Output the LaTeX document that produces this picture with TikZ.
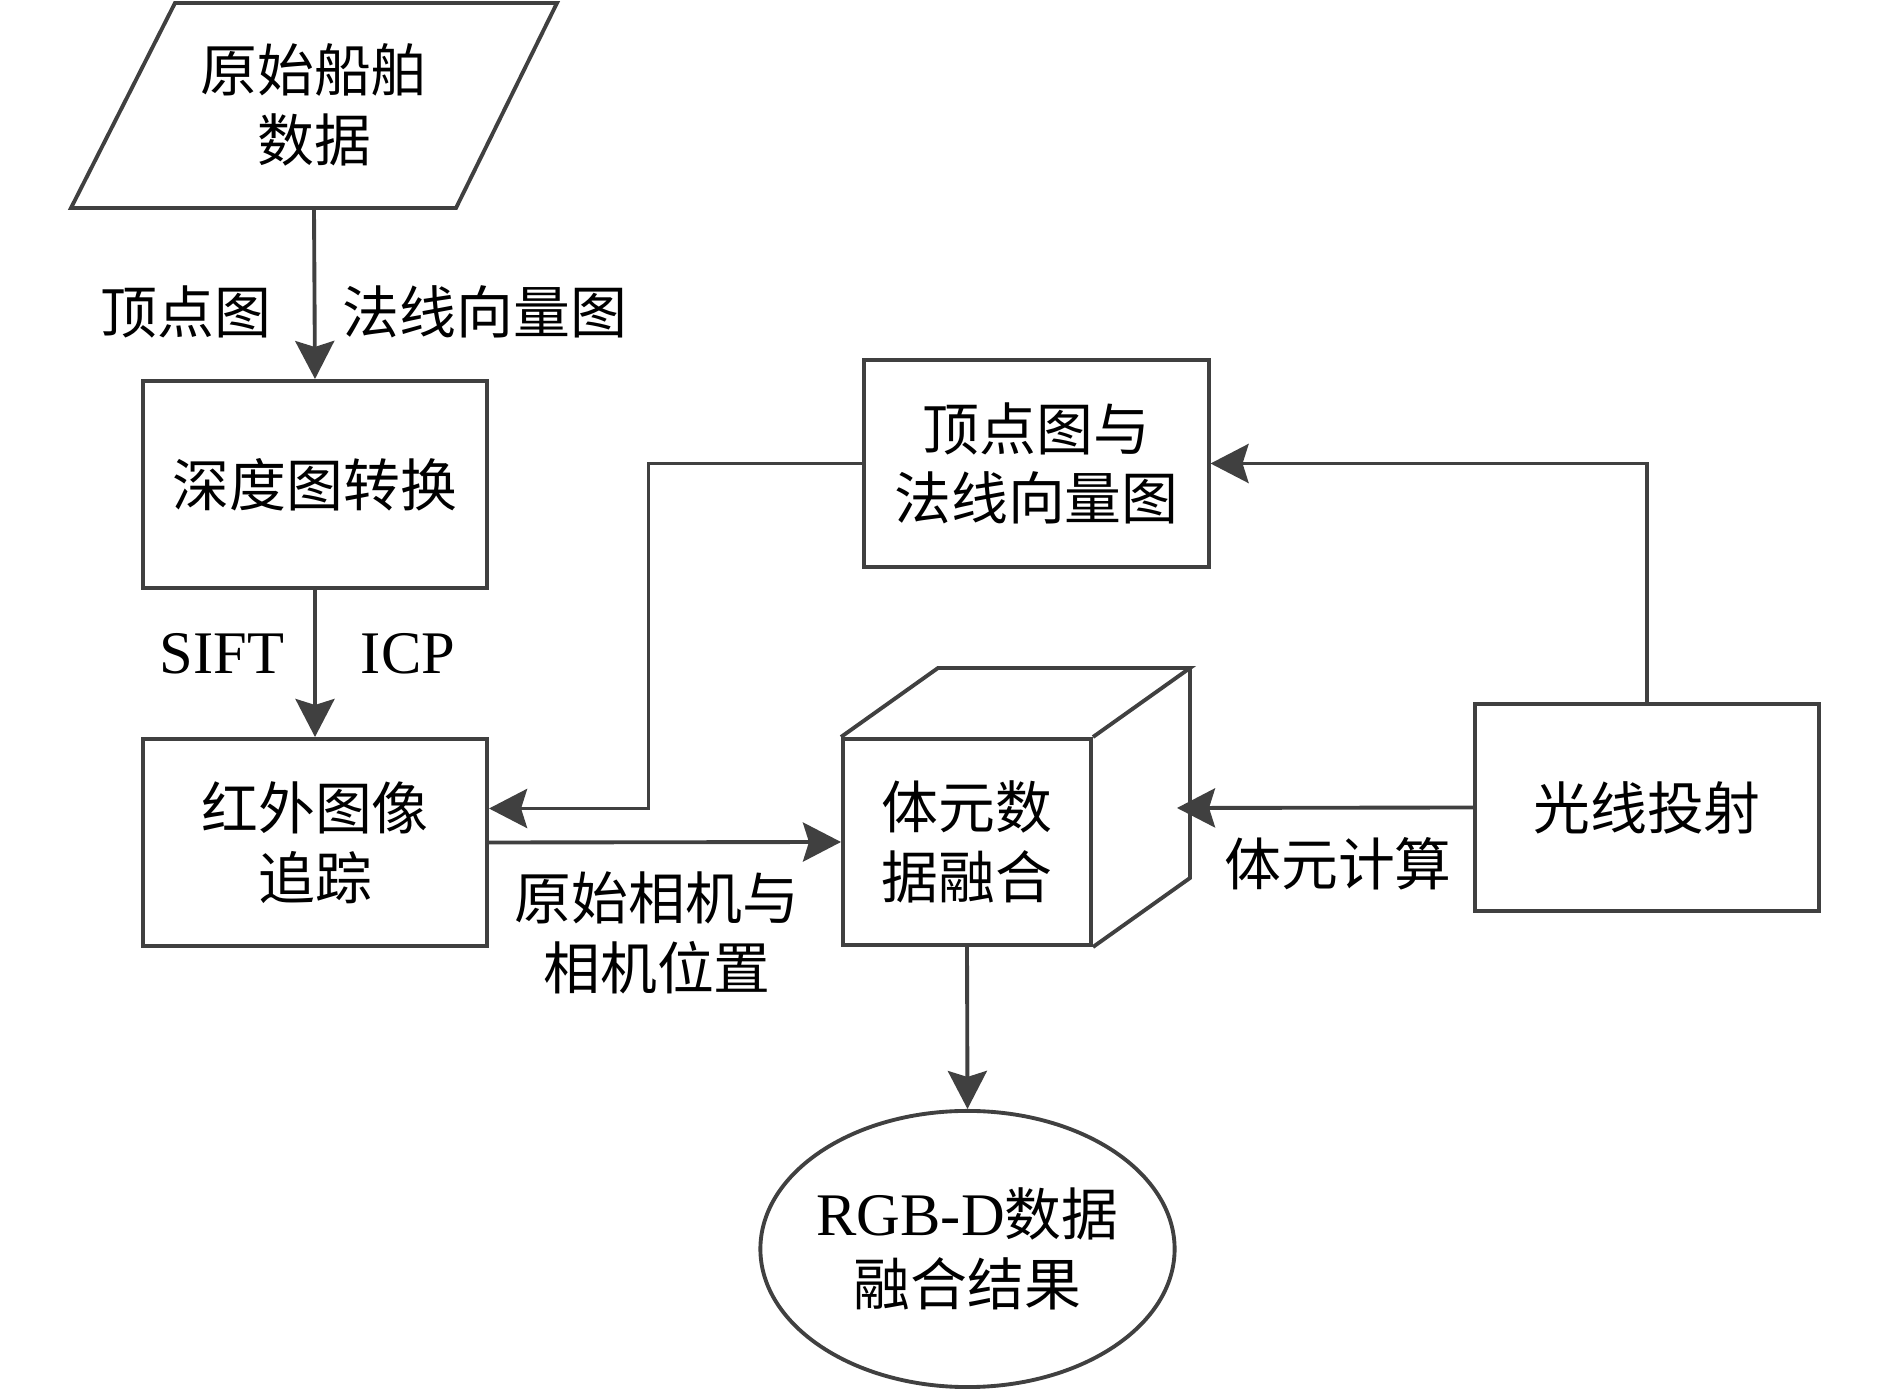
\documentclass[tikz,border=0pt]{standalone}
\usepackage{fontspec}
\setmainfont{Liberation Serif}
\newfontfamily\cjk[Scale=0.94]{Noto Sans CJK SC}
\usetikzlibrary{shapes.geometric,arrows.meta,calc}
\definecolor{ln}{RGB}{64,64,64}
\begin{document}
\begin{tikzpicture}[x=0.01cm,y=-0.01cm,
  every node/.style={font=\fontsize{17.2pt}{19.8pt}\selectfont, inner sep=0pt, align=center},
  line/.style={draw=ln, line width=1.1pt, line join=miter},
  arr/.style={line, -{Stealth[length=0.38cm,width=0.39cm,inset=0.06cm]}},
  box/.style={line, rectangle, minimum width=3.44cm, minimum height=2.07cm},
  ghost/.style={draw=none, rectangle, minimum width=3.44cm, minimum height=2.06cm}]
\useasboundingbox (0,0) rectangle (1890,1389);
\fill[white] (0,0) rectangle (1890,1389);

% source parallelogram
\node[ghost] (src) at (314,105) {\cjk 原始船舶\\\cjk 数据};
\draw[line] (71,208) -- (175,3) -- (557,3) -- (456,208) -- cycle;

% boxes
\node[box] (A) at (315,484.5) {\cjk 深度图转换};
\node[box] (B) at (315,842.5) {\cjk 红外图像\\\cjk 追踪};
\node[box] (C) at (1036.5,463.5) {\cjk 顶点图与\\\cjk 法线向量图};
\node[box] (D) at (1647,807.5) {\cjk 光线投射};

% cube
\node[line, rectangle, minimum width=2.48cm, minimum height=2.06cm] (cube) at (967,842) {\cjk 体元数\\\cjk 据融合};
\draw[line] (cube.north west) -- ($(cube.north west)+(97,-69)$) -- ($(cube.north east)+(97,-69)$) -- (cube.north east);
\draw[line] ($(cube.north east)+(97,-69)$) -- ($(cube.south east)+(97,-69)$) -- (cube.south east);
\coordinate (cubeR) at (1177,808);

% ellipse
\node[line, ellipse, minimum width=4.14cm, minimum height=2.76cm] (E) at (967.5,1249) {};
\node (Et) at (E.center) {RGB-D{\cjk 数据}\\{\cjk 融合结果}};

% connectors
\draw[arr] (src.south) -- (A.north);
\draw[arr] (A.south) -- (B.north);
\draw[arr] (B.east) -- (cube.west);
\draw[arr] (C.west) -- ++(-214,0) |- ($(B.east)+(0,-34)$);
\draw[arr] (D.north) |- (C.east);
\draw[arr] (D.west) -- (cubeR);
\draw[arr] (cube.south) -- (E.north);

% labels
\node (l1) at (186,311.5) {\cjk 顶点图};
\node (l2) at (485,311.5) {\cjk 法线向量图};
\node (l3) at (222,654) {SIFT};
\node (l4) at (408,654) {ICP};
\node (l5) at (657,933) {\cjk 原始相机与\\\cjk 相机位置};
\node (l6) at (1338,864) {\cjk 体元计算};
\end{tikzpicture}
\end{document}
